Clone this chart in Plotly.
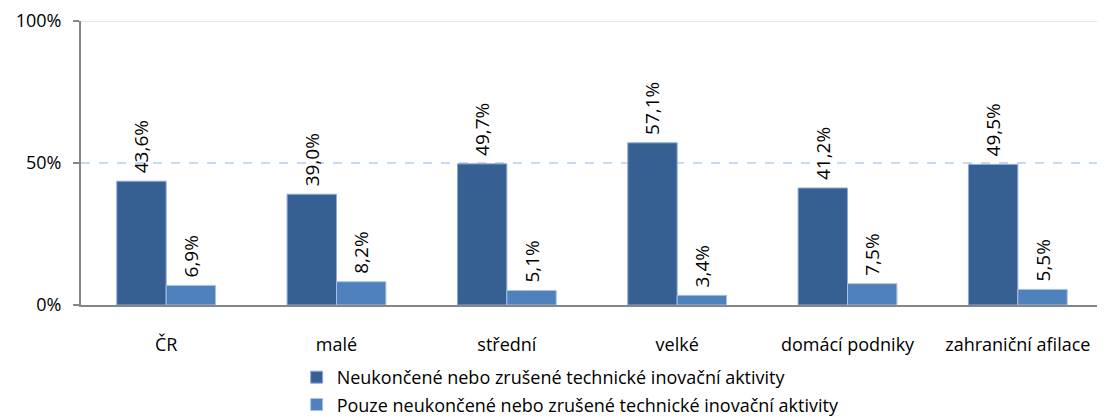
import plotly.graph_objects as go

categories = ["ČR", "malé", "střední", "velké", "domácí podniky", "zahraniční afilace"]
series1_name = "Neukončené nebo zrušené technické inovační aktivity"
series2_name = "Pouze neukončené nebo zrušené technické inovační aktivity"
series1 = [43.6, 39.0, 49.7, 57.1, 41.2, 49.5]
series2 = [6.9, 8.2, 5.1, 3.4, 7.5, 5.5]
tick_vals = [0, 50, 100]
tick_text = ["0%", "50%", "100%"]

def fmt(v):
    # leading non-breaking space gives a small gap above the bar
    return "\u00a0" + f"{v:.1f}".replace(".", ",") + "%"

FONT = "Open Sans"
FS = 18

fig = go.Figure()
fig.add_trace(go.Bar(
    x=categories, y=series1, name=series1_name,
    marker=dict(color="#376092", line=dict(color="#8FAADC", width=1)),
    text=[fmt(v) for v in series1], textposition="outside", textangle=-90,
    textfont=dict(size=19, color="#000000", family=FONT), constraintext="none",
    cliponaxis=False, legendgroup="a", hoverinfo="skip",
))
fig.add_trace(go.Bar(
    x=categories, y=series2, name=series2_name,
    marker=dict(color="#4F81BD", line=dict(color="#A9C1E3", width=1)),
    text=[fmt(v) for v in series2], textposition="outside", textangle=-90,
    textfont=dict(size=19, color="#000000", family=FONT), constraintext="none",
    cliponaxis=False, legendgroup="b", hoverinfo="skip",
))

# page body has an 8px margin, so the figure is offset by 8px; compensate
fig.update_layout(
    width=1097, height=412,
    margin=dict(l=73, r=2, t=13, b=115, autoexpand=False),
    paper_bgcolor="white", plot_bgcolor="white",
    barmode="group", bargap=0.42, bargroupgap=0,
    font=dict(family=FONT, size=FS, color="#000000"),
    showlegend=True,
    legend=dict(
        orientation="v", x=0.211, xanchor="left", y=-0.19, yanchor="top",
        font=dict(size=FS, family=FONT), tracegroupgap=1,
        itemwidth=30, bgcolor="rgba(0,0,0,0)",
    ),
    xaxis=dict(
        showline=True, linecolor="#868686", linewidth=2, automargin=False,
        ticks="", showgrid=False, ticklabelstandoff=22,
        tickfont=dict(size=FS, family=FONT),
    ),
    yaxis=dict(
        range=[0, 100], tickvals=tick_vals, ticktext=tick_text, automargin=False,
        showline=True, linecolor="#868686", linewidth=2,
        ticks="outside", ticklen=6, tickcolor="#868686", tickwidth=2,
        showgrid=True, gridcolor="#C6D9F1", griddash="dash", gridwidth=1.5,
        zeroline=False, tickfont=dict(size=FS, family=FONT),
        ticklabelstandoff=8, ticklabeloverflow="allow",
    ),
)
fig.add_shape(type="line", xref="paper", yref="y", x0=0, x1=1, y0=100, y1=100,
              line=dict(color="#D0DEF0", width=1.5))

fig.write_html("out.html")
